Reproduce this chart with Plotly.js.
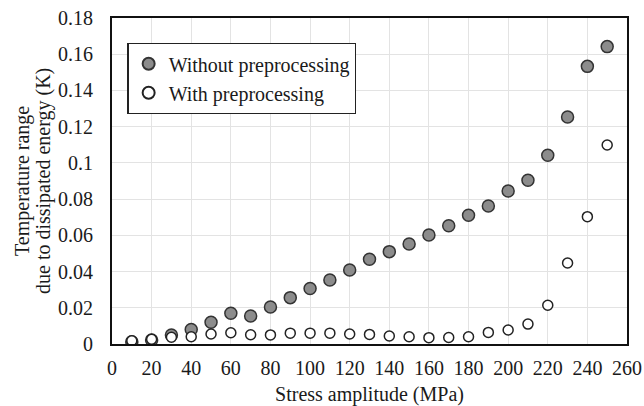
<!DOCTYPE html>
<html>
<head>
<meta charset="utf-8">
<script src="https://cdn.plot.ly/plotly-3.0.1.min.js"></script>
<style>html,body{margin:0;padding:0;background:#fff;}#chart{width:644px;height:406px;}</style>
</head>
<body>
<div id="chart"></div>
<script>
const stress = [10,20,30,40,50,60,70,80,90,100,110,120,130,140,150,160,170,180,190,200,210,220,230,240,250];
const withoutPre = [0.0012,0.0022,0.005,0.008,0.012,0.017,0.0155,0.0204,0.0256,0.0306,0.0353,0.0409,0.0468,0.051,0.0552,0.0602,0.0653,0.0711,0.0762,0.0845,0.0904,0.1042,0.1253,0.1533,0.1642];
const withPre = [0.0018,0.0026,0.0037,0.004,0.0055,0.0062,0.0051,0.005,0.006,0.006,0.006,0.0055,0.0053,0.0044,0.004,0.0035,0.0036,0.004,0.0064,0.0077,0.011,0.0214,0.0447,0.0703,0.1099];
const xTicks = [0,20,40,60,80,100,120,140,160,180,200,220,240,260];
const yTicks = [0,0.02,0.04,0.06,0.08,0.1,0.12,0.14,0.16,0.18];
const yTickText = ['0','0.02','0.04','0.06','0.08','0.1','0.12','0.14','0.16','0.18'];
const yTitleLines = ['Temperature range','due to dissipated energy (K)'];

const fam = 'Liberation Serif, Times New Roman, serif';
const txt = '#1a1a1a';

const traces = [
  {x: stress, y: withoutPre, mode:'markers', type:'scatter', name:'Without preprocessing',
   marker:{size:12, color:'#8c8c8c', line:{color:'#333', width:1.5}}},
  {x: stress, y: withPre, mode:'markers', type:'scatter', name:'With preprocessing',
   marker:{size:10, color:'#ffffff', line:{color:'#222', width:1.5}}}
];

const layout = {
  width:644, height:406,
  margin:{l:112, r:17, t:18, b:62},
  paper_bgcolor:'#fff', plot_bgcolor:'#fff',
  font:{family:fam, size:20, color:txt},
  showlegend:true,
  legend:{x:0.03, y:0.923, xanchor:'left', yanchor:'top', bgcolor:'#fff',
    bordercolor:'#222', borderwidth:1.2, font:{family:fam, size:20, color:txt},
    itemsizing:'constant', tracegroupgap:0, itemwidth:30},
  xaxis:{range:[0,260], tickvals:xTicks, ticktext:xTicks.map(String), showgrid:true, gridcolor:'#e3e3e3', gridwidth:1,
    zeroline:false, showline:true, linecolor:'#111', linewidth:2, mirror:true, ticks:'', ticklabelstandoff:5,
    title:{text:'Stress amplitude (MPa)', font:{family:fam, size:20, color:txt}, standoff:10}, tickfont:{size:20}},
  yaxis:{range:[0,0.18], tickvals:yTicks, ticktext:yTickText, showgrid:true, gridcolor:'#e3e3e3', gridwidth:1,
    zeroline:false, showline:true, linecolor:'#111', linewidth:2, mirror:true, ticks:'', ticklabelstandoff:13,
    tickfont:{size:20}},
  annotations:[
    {text:yTitleLines[0], xref:'paper', yref:'paper', x:(22-112)/515, y:0.5, xanchor:'center', yanchor:'middle',
     textangle:-90, showarrow:false, font:{family:fam, size:20, color:txt}},
    {text:yTitleLines[1], xref:'paper', yref:'paper', x:(43-112)/515, y:0.5, xanchor:'center', yanchor:'middle',
     textangle:-90, showarrow:false, font:{family:fam, size:20, color:txt}}
  ]
};

Plotly.newPlot('chart', traces, layout, {displayModeBar:false, staticPlot:true});
</script>
</body>
</html>
